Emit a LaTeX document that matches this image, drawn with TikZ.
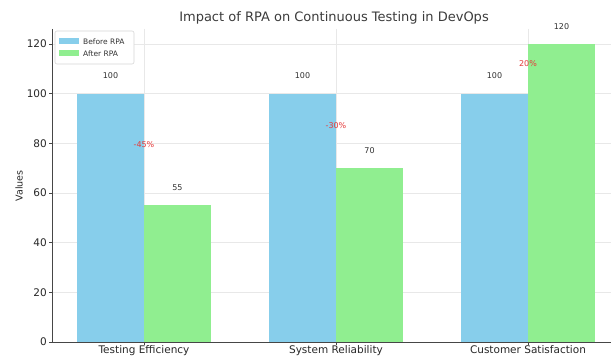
\documentclass[tikz,border=0pt]{standalone}
\usepackage{fontspec}
\setmainfont{DejaVu Sans}
\begin{document}
\begin{tikzpicture}[x=1pt,y=-1pt,
  before/.style={fill={rgb,255:red,135;green,206;blue,235}, draw=none},
  after/.style={fill={rgb,255:red,144;green,238;blue,144}, draw=none},
  gridl/.style={draw={rgb,255:red,232;green,232;blue,232}, line width=0.6pt},
  spine/.style={draw={rgb,255:red,70;green,70;blue,70}, line width=0.9pt},
  ticklab/.style={font=\fontsize{10.5}{12}\selectfont, text={rgb,255:red,40;green,40;blue,40}, inner sep=1pt},
  vallab/.style={font=\fontsize{8}{9}\selectfont, text={rgb,255:red,50;green,50;blue,50}, inner sep=0pt},
  pctlab/.style={font=\fontsize{8}{9}\selectfont, text={rgb,255:red,230;green,60;blue,60}, inner sep=0pt},
  leglab/.style={font=\fontsize{7.5}{9}\selectfont, text={rgb,255:red,50;green,50;blue,50}, inner sep=0pt, anchor=west}
]
\useasboundingbox (0,0) rectangle (611,358);
\fill[white] (0,0) rectangle (611,358);
% grid
\foreach \v in {0,20,...,120} {
  \draw[gridl] (52,{342-\v*2.483}) -- (611,{342-\v*2.483});
}
\foreach \c in {144,336,528} {
  \draw[gridl] (\c,29) -- (\c,342);
}
% bars
\def\u{2.483}
\fill[before] (77,342) rectangle (144,{342-100*\u});
\fill[after] (144,342) rectangle (211,{342-55*\u});
\fill[before] (269,342) rectangle (336,{342-100*\u});
\fill[after] (336,342) rectangle (403,{342-70*\u});
\fill[before] (461,342) rectangle (528,{342-100*\u});
\fill[after] (528,342) rectangle (595,{342-120*\u});
% value labels
\node[vallab] (v1) at (110.5,76) {100};
\node[vallab] (v2) at (177.5,188) {55};
\node[vallab] (v3) at (302.5,76) {100};
\node[vallab] (v4) at (369.5,151) {70};
\node[vallab] (v5) at (494.5,76) {100};
\node[vallab] (v6) at (561.5,27) {120};
% percent labels
\node[pctlab] (p1) at (144,145) {-45\%};
\node[pctlab] (p2) at (336,126) {-30\%};
\node[pctlab] (p3) at (528,64) {20\%};
% spines
\draw[spine] (52,29) -- (52,342) -- (611,342);
% y ticks
\foreach \v in {0,20,...,120} {
  \draw[spine, line width=0.7pt] (49,{342-\v*\u}) -- (52,{342-\v*\u});
  \node[ticklab, anchor=east] at (48,{342-\v*\u}) {\v};
}
% x ticks
\foreach \c/\t in {144/Testing Efficiency,336/System Reliability,528/Customer Satisfaction} {
  \draw[spine, line width=0.7pt] (\c,342) -- (\c,345);
  \node[ticklab, anchor=north, inner sep=0pt] at (\c,345.5) {\t};
}
% axis label
\node[ticklab, rotate=90, font=\fontsize{9.5}{11}\selectfont] (ylab) at (19,186) {Values};
% title
\node[font=\fontsize{13}{15}\selectfont, text={rgb,255:red,60;green,60;blue,60}, inner sep=0pt] (title) at (334,18) {Impact of RPA on Continuous Testing in DevOps};
% legend
\draw[draw={rgb,255:red,215;green,215;blue,215}, fill=white, rounded corners=2pt, line width=0.6pt] (55,31) rectangle (134,64);
\fill[before] (59,38.5) rectangle (79,44.5);
\fill[after] (59,50.5) rectangle (79,56.5);
\node[leglab] (l1) at (83,41.5) {Before RPA};
\node[leglab] (l2) at (83,53.5) {After RPA};
\end{tikzpicture}
\end{document}
